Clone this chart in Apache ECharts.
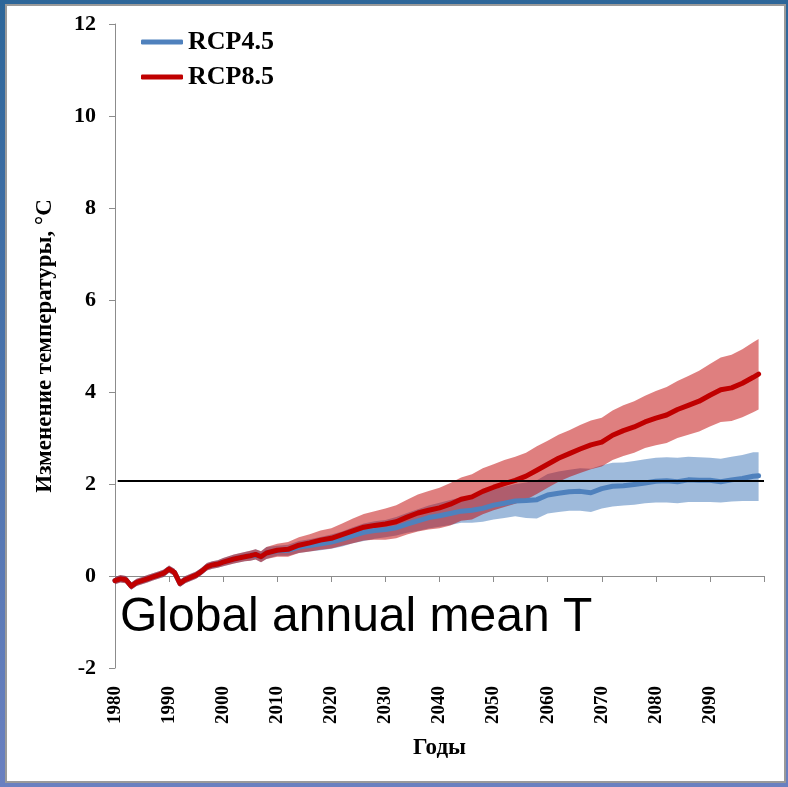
<!DOCTYPE html>
<html><head><meta charset="utf-8">
<script src="https://cdn.jsdelivr.net/npm/echarts@6/dist/echarts.min.js"></script>
<style>html,body{margin:0;padding:0;background:#fff}#c{width:788px;height:787px}</style>
</head><body><div id="c"></div><script>
const years = [1980,1981,1982,1983,1984,1985,1986,1987,1988,1989,1990,1991,1992,1993,1994,1995,1996,1997,1998,1999,2000,
  2002,2004,2005,2006,2007,2008,
  2010,2012,2014,2016,2018,2020,2022,2024,2026,2028,2030,2032,2034,2036,2038,2040,2042,2044,2046,2048,2050,2052,2054,2056,2058,
  2060,2062,2064,2066,2068,2070,2072,2074,2076,2078,2080,2082,2084,2086,2088,2090,2092,2094,2096,2098,2099];

const rcp85Mean = [-0.1,-0.06,-0.08,-0.22,-0.14,-0.1,-0.06,-0.02,0.02,0.06,0.15,0.08,-0.16,-0.08,-0.03,0.02,0.1,0.2,0.24,0.26,0.3,
  0.37,0.42,0.44,0.47,0.42,0.5,
  0.56,0.58,0.67,0.72,0.78,0.82,0.9,0.98,1.06,1.1,1.13,1.18,1.28,1.37,1.43,1.48,1.56,1.67,1.72,1.84,1.93,2.01,2.08,2.17,2.3,
  2.43,2.56,2.66,2.76,2.85,2.91,3.06,3.16,3.24,3.35,3.43,3.5,3.62,3.71,3.8,3.93,4.05,4.09,4.19,4.32,4.39];
const rcp85Upper = [-0.02,0.02,0.0,-0.14,-0.06,-0.02,0.02,0.06,0.1,0.14,0.23,0.16,-0.08,0.0,0.05,0.1,0.18,0.28,0.32,0.34,0.39,
  0.47,0.52,0.55,0.58,0.54,0.63,
  0.70,0.74,0.84,0.91,0.99,1.04,1.14,1.25,1.35,1.41,1.47,1.54,1.66,1.77,1.85,1.92,2.02,2.14,2.21,2.34,2.43,2.52,2.59,2.68,2.82,
  2.94,3.07,3.17,3.28,3.38,3.44,3.60,3.71,3.80,3.92,4.02,4.11,4.24,4.35,4.46,4.61,4.75,4.81,4.93,5.08,5.15];
const rcp85Lower = [-0.18,-0.14,-0.16,-0.30,-0.22,-0.18,-0.14,-0.10,-0.06,-0.02,0.07,0.0,-0.24,-0.16,-0.11,-0.06,0.02,0.12,0.16,0.18,0.21,
  0.27,0.32,0.33,0.36,0.30,0.37,
  0.42,0.42,0.50,0.53,0.57,0.60,0.66,0.71,0.77,0.79,0.79,0.82,0.90,0.97,1.01,1.04,1.10,1.20,1.23,1.34,1.43,1.50,1.57,1.66,1.78,
  1.92,2.05,2.15,2.24,2.32,2.38,2.52,2.61,2.68,2.78,2.84,2.89,3.00,3.07,3.14,3.25,3.35,3.37,3.45,3.56,3.62];

const rcp45Mean = [-0.1,-0.06,-0.08,-0.22,-0.14,-0.1,-0.06,-0.02,0.02,0.06,0.15,0.08,-0.16,-0.08,-0.03,0.02,0.1,0.2,0.24,0.26,0.3,
  0.37,0.42,0.44,0.47,0.42,0.5,
  0.55,0.56,0.63,0.66,0.7,0.74,0.8,0.88,0.95,0.99,1.01,1.05,1.13,1.2,1.27,1.31,1.36,1.41,1.43,1.47,1.54,1.58,1.63,1.64,1.66,
  1.76,1.8,1.83,1.84,1.81,1.9,1.95,1.96,1.99,2.02,2.06,2.07,2.05,2.09,2.08,2.08,2.05,2.09,2.12,2.17,2.18];
const rcp45Upper = [-0.02,0.02,0.0,-0.14,-0.06,-0.02,0.02,0.06,0.1,0.14,0.23,0.16,-0.08,0.0,0.05,0.1,0.18,0.28,0.32,0.34,0.39,
  0.47,0.52,0.55,0.58,0.54,0.63,
  0.66,0.68,0.76,0.80,0.85,0.90,0.97,1.06,1.14,1.19,1.22,1.28,1.37,1.45,1.53,1.59,1.65,1.71,1.75,1.80,1.89,1.94,2.0,2.03,2.08,
  2.22,2.27,2.31,2.34,2.33,2.41,2.46,2.47,2.50,2.54,2.57,2.58,2.57,2.59,2.58,2.57,2.55,2.59,2.63,2.69,2.69];
const rcp45Lower = [-0.18,-0.14,-0.16,-0.30,-0.22,-0.18,-0.14,-0.10,-0.06,-0.02,0.07,0.0,-0.24,-0.16,-0.11,-0.06,0.02,0.12,0.16,0.18,0.21,
  0.27,0.32,0.33,0.36,0.30,0.37,
  0.44,0.44,0.50,0.53,0.56,0.59,0.64,0.71,0.76,0.81,0.84,0.88,0.94,0.98,1.03,1.07,1.11,1.16,1.16,1.18,1.23,1.26,1.30,1.26,1.25,
  1.36,1.39,1.42,1.42,1.39,1.47,1.51,1.53,1.55,1.58,1.60,1.60,1.58,1.61,1.61,1.61,1.60,1.62,1.63,1.63,1.63];

const thresholdValue = 2.07;
const yTicks = [-2, 12, 2];
const xTicks = [1980, 2100, 10];
const seriesNames = ['RCP4.5', 'RCP8.5'];
const yName = 'Изменение температуры, °C';
const xName = 'Годы';
const annotation = 'Global annual mean T';

const serif = '"Liberation Serif", "Times New Roman", serif';
const chart = echarts.init(document.getElementById('c'), null, {renderer: 'canvas'});

function band(name, lower, upper, color, order) {
  return {
    type: 'custom', name: name, z: 2, silent: true,
    data: years.map((y, i) => [y, lower[i], upper[i]]),
    encode: {x: 0, y: [1, 2]},
    renderItem: function (params, api) {
      if (params.dataIndex !== 0) return;
      const pts = [];
      for (let i = 0; i < years.length; i++) pts.push(api.coord([years[i], upper[i]]));
      for (let i = years.length - 1; i >= 0; i--) pts.push(api.coord([years[i], lower[i]]));
      return {type: 'polygon', z2: order, shape: {points: pts}, style: {fill: color}};
    }
  };
}

const option = {
  animation: false,
  graphic: [
    {type: 'rect', left: 0, top: 0, z: -10, silent: true, shape: {width: 788, height: 787},
     style: {fill: new echarts.graphic.LinearGradient(0, 0, 0, 1, [{offset: 0, color: '#2d6699'}, {offset: 1, color: '#6a80c0'}])}},
    {type: 'rect', left: 5, top: 4, z: -9, silent: true, shape: {width: 779, height: 777},
     style: {fill: '#ffffff', stroke: '#9a9a9a', lineWidth: 2}},
    {type: 'text', left: 120, top: 594, z: 100, silent: true,
     style: {text: annotation, font: '48px "Liberation Sans", Arial, sans-serif', fill: '#000'}}
  ],
  grid: {left: 115, right: 24, top: 24, bottom: 119, containLabel: false},
  legend: {
    data: seriesNames, orient: 'vertical', left: 141, top: 29, itemGap: 9,
    itemWidth: 42, itemHeight: 5, icon: 'roundRect', padding: 0,
    textStyle: {fontFamily: serif, fontWeight: 'bold', fontSize: 26, color: '#000'}
  },
  xAxis: {
    type: 'value', min: xTicks[0], max: xTicks[1], interval: xTicks[2],
    name: xName, nameLocation: 'middle', nameGap: 69,
    nameTextStyle: {fontFamily: serif, fontWeight: 'bold', fontSize: 23, color: '#000'},
    axisLine: {show: true, lineStyle: {color: '#8c8c8c', width: 1}},
    axisTick: {show: true, length: 6, lineStyle: {color: '#8c8c8c'}},
    splitLine: {show: false},
    axisLabel: {rotate: 90, margin: 18, color: '#000', fontFamily: serif, fontWeight: 'bold', fontSize: 19,
      formatter: v => (v === xTicks[1] ? '' : String(v))}
  },
  yAxis: {
    type: 'value', min: yTicks[0], max: yTicks[1], interval: yTicks[2],
    name: yName, nameLocation: 'middle', nameGap: 58,
    nameTextStyle: {fontFamily: serif, fontWeight: 'bold', fontSize: 23, color: '#000'},
    axisLine: {show: true, lineStyle: {color: '#8c8c8c', width: 1}},
    axisTick: {show: true, length: 6, lineStyle: {color: '#8c8c8c'}},
    splitLine: {show: false},
    axisLabel: {margin: 19, color: '#000', fontFamily: serif, fontWeight: 'bold', fontSize: 22}
  },
  series: [
    band('RCP4.5 range', rcp45Lower, rcp45Upper, 'rgba(79,129,189,0.55)', 1),
    band('RCP8.5 range', rcp85Lower, rcp85Upper, 'rgba(192,0,0,0.5)', 2),
    {type: 'line', name: seriesNames[0], z: 3, symbol: 'none', color: '#4f81bd',
     lineStyle: {width: 5, color: '#4f81bd', cap: 'round', join: 'round'},
     data: years.map((y, i) => [y, rcp45Mean[i]])},
    {type: 'line', name: seriesNames[1], z: 4, symbol: 'none', color: '#c00000',
     lineStyle: {width: 5, color: '#c00000', cap: 'round', join: 'round'},
     data: years.map((y, i) => [y, rcp85Mean[i]]),
     markLine: {silent: true, symbol: ['none', 'none'], label: {show: false}, animation: false,
       lineStyle: {color: '#000', width: 2, type: 'solid'},
       data: [[{coord: [1980.5, thresholdValue]}, {coord: [2100, thresholdValue]}]]}}
  ]
};
chart.setOption(option);
</script></body></html>
